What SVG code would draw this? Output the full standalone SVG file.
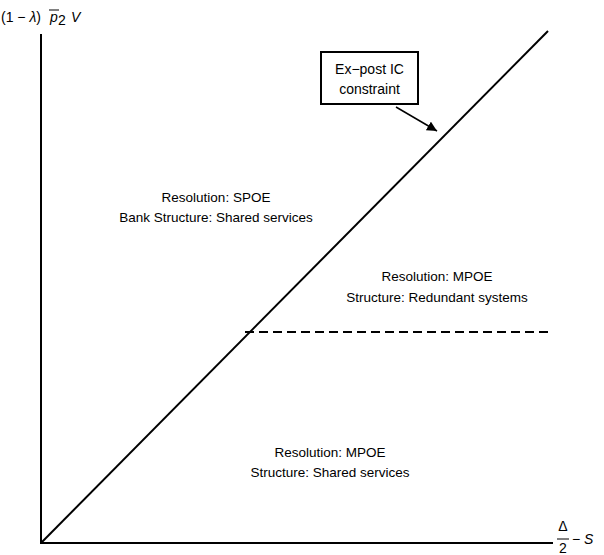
<svg xmlns="http://www.w3.org/2000/svg" width="604" height="555" viewBox="0 0 604 555">
<style>
text{font-family:"Liberation Sans",Arial,sans-serif;font-size:14px;fill:#000}
.c{text-anchor:middle}
.r{font-size:13.5px}
.ln{stroke:#000;stroke-width:2;fill:none}
</style>
<defs>
<marker id="ah" viewBox="0 0 10 10" refX="10" refY="5" markerWidth="10" markerHeight="10" markerUnits="userSpaceOnUse" orient="auto">
<path d="M0,0 L10,5 L0,10 z" fill="#000"/>
</marker>
</defs>
<g id="axes">
<line class="ln" x1="41" y1="34" x2="41" y2="544"/>
<line class="ln" x1="40" y1="543" x2="553" y2="543"/>
<text x="1" y="22">(1 − <tspan font-style="italic">λ</tspan>)</text>
<text x="50" y="22" font-style="italic">p</text>
<text x="58" y="25" font-size="12">2</text>
<text x="71" y="22" font-style="italic">V</text>
<line x1="49" y1="10" x2="59" y2="10" stroke="#000" stroke-width="1"/>
<text x="563" y="531" class="c">Δ</text>
<line x1="557" y1="539" x2="569" y2="539" stroke="#000" stroke-width="1"/>
<text x="563" y="553" class="c">2</text>
<text x="572" y="544">− <tspan font-style="italic">S</tspan></text>
</g>
<g id="connectors">
<line class="ln" x1="41" y1="543" x2="548" y2="31"/>
<line class="ln" x1="245" y1="332" x2="548" y2="332" stroke-dasharray="9,5"/>
<line x1="396" y1="107" x2="437" y2="131" stroke="#000" stroke-width="1.5" marker-end="url(#ah)"/>
</g>
<g id="ic-box">
<rect x="321" y="52" width="97" height="52" fill="#fff" stroke="#000" stroke-width="2"/>
<text x="369.5" y="74" class="c" font-size="15">Ex−post IC</text>
<text x="369.5" y="94" class="c" font-size="15">constraint</text>
</g>
<g id="region-spoe">
<text x="216" y="202" class="c r">Resolution: SPOE</text>
<text x="216" y="222" class="c r">Bank Structure: Shared services</text>
</g>
<g id="region-mpoe-redundant">
<text x="437" y="281" class="c r">Resolution: MPOE</text>
<text x="437" y="302" class="c r">Structure: Redundant systems</text>
</g>
<g id="region-mpoe-shared">
<text x="330" y="457" class="c r">Resolution: MPOE</text>
<text x="330" y="477" class="c r">Structure: Shared services</text>
</g>
</svg>
